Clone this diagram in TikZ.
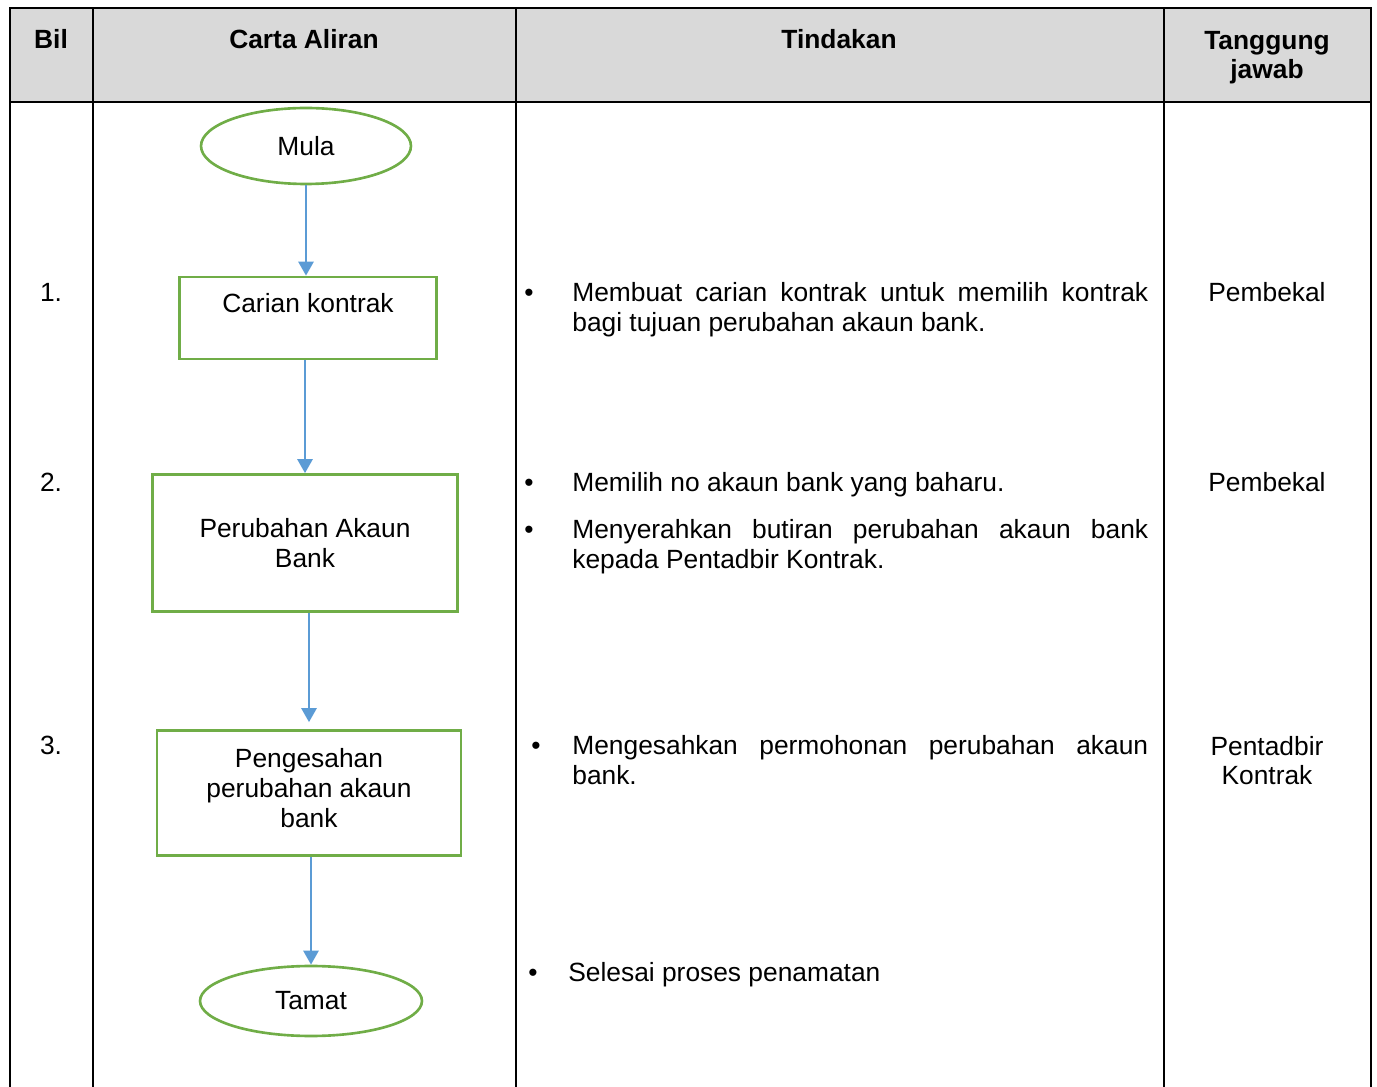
\documentclass[tikz,border=0pt]{standalone}
\usepackage{fontspec}
\setmainfont{Liberation Sans}
\usepackage{xcolor}
\usetikzlibrary{arrows.meta,positioning,shapes.geometric}
\definecolor{hdrgray}{HTML}{D9D9D9}
\definecolor{flowgreen}{HTML}{70AD47}
\definecolor{flowblue}{HTML}{5B9BD5}

\begin{document}
\begin{tikzpicture}[
  x=0.02cm, y=-0.02cm,
  font=\fontsize{15pt}{17pt}\selectfont,
  grid/.style={line width=1.4pt, black},
  hdr/.style={font=\fontsize{15pt}{17pt}\selectfont\bfseries, align=center, inner sep=0pt, anchor=base},
  txt/.style={inner sep=0pt, anchor=base, align=center},
  act/.style={inner sep=0pt, anchor=base west, text width=11.52cm, align=justify},
  term/.style={ellipse, draw=flowgreen, line width=1.5pt, inner sep=0pt},
  proc/.style={rectangle, draw=flowgreen, line width=1.5pt, align=center, inner sep=0pt},
  arr/.style={-{Triangle[length=0.28cm, width=0.3cm]}, flowblue, line width=1.5pt}
]
\useasboundingbox (0,0) rectangle (1377,1087);
\fill[hdrgray] (10,8) rectangle (1371,102);
\draw[grid] (10,1087) -- (10,8) -- (1371,8) -- (1371,1087);
\draw[grid] (10,102) -- (1371,102);
\foreach \cx in {93,516,1164} \draw[grid] (\cx,8) -- (\cx,1087);

\node[hdr] (hbil) at (51,49) {Bil};
\node[hdr] (hcarta) at (304,49) {Carta Aliran};
\node[hdr] (htind) at (839,49) {Tindakan};
\node[hdr] (htj) at (1267,79) {Tanggung\\jawab};

\node[term, minimum width=4.2cm, minimum height=1.52cm] (mula) at (306,146) {Mula};
\node[proc, minimum width=5.14cm, minimum height=1.64cm] (carian) at (308,318) {Carian kontrak\\\mbox{}};
\node[proc, minimum width=6.1cm, minimum height=2.74cm] (perubahan) at (305,543) {Perubahan Akaun\\Bank};
\node[proc, minimum width=6.08cm, minimum height=2.5cm, text depth=0.2cm] (pengesahan) at (309,793) {Pengesahan\\perubahan akaun\\bank};
\node[term, minimum width=4.44cm, minimum height=1.4cm] (tamat) at (311,1001) {Tamat};

\draw[arr] (mula.south) -- (mula.south |- carian.north);
\draw[arr] (perubahan.north |- carian.south) -- (perubahan.north);
\draw[arr, shorten >=0.14cm] (pengesahan.north |- perubahan.south) -- (pengesahan.north);
\draw[arr] (tamat.north |- pengesahan.south) -- (tamat.north);

\node[txt] (bil1) at (51,302) {1.};
\node[txt] (bil2) at (51,492) {2.};
\node[txt] (bil3) at (51,755) {3.};

\node[txt] (dot1) at (529,302) {\textbullet};
\node[txt] (dot2) at (529,492) {\textbullet};
\node[txt] (dot3) at (529,539) {\textbullet};
\node[txt] (dot4) at (536,755) {\textbullet};
\node[txt] (dot5) at (533,981) {\textbullet};

\node[act] (act1) at (572,302) {Membuat carian kontrak untuk memilih kontrak\linebreak bagi tujuan perubahan akaun bank.};
\node[act] (act2) at (572,492) {Memilih no akaun bank yang baharu.};
\node[act] (act3) at (572,539) {Menyerahkan butiran perubahan akaun bank\linebreak kepada Pentadbir Kontrak.};
\node[act] (act4) at (572,755) {Mengesahkan permohonan perubahan akaun\linebreak bank.};
\node[act] (act5) at (568,981) {Selesai proses penamatan};

\node[txt] (tj1) at (1267,302) {Pembekal};
\node[txt] (tj2) at (1267,492) {Pembekal};
\node[txt] (tj3) at (1267,785) {Pentadbir\\Kontrak};
\end{tikzpicture}
\end{document}
